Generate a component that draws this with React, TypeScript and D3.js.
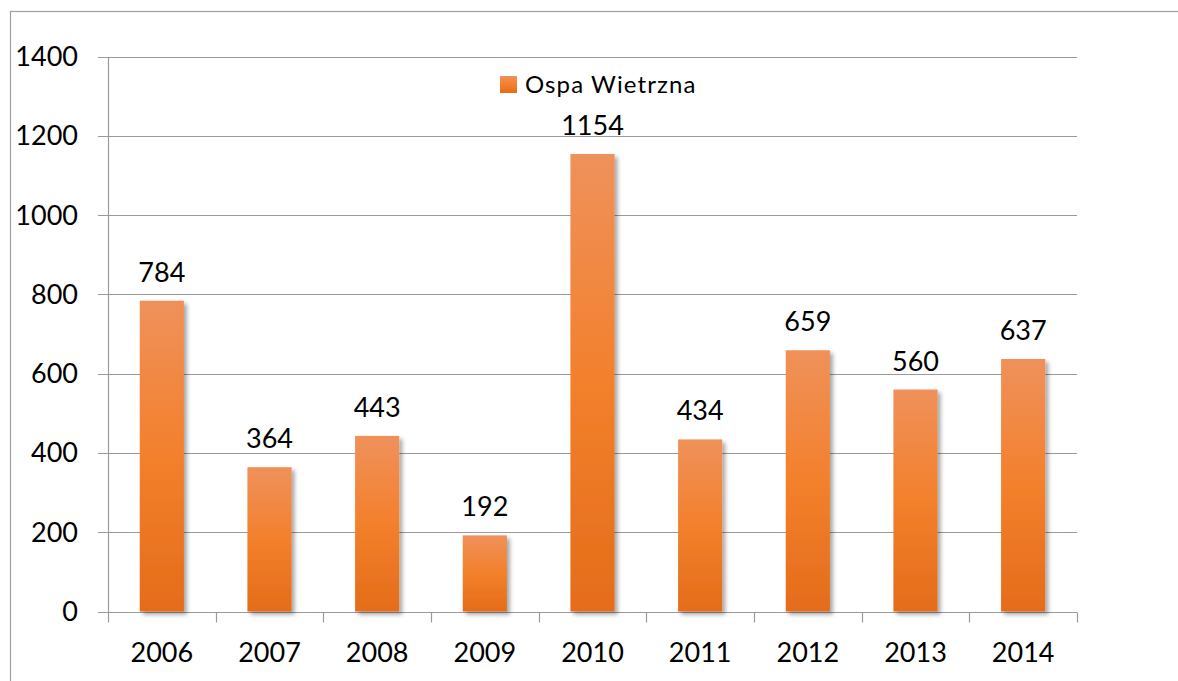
import React, { useEffect, useRef } from 'react';
import * as d3 from 'd3';

const years = ['2006', '2007', '2008', '2009', '2010', '2011', '2012', '2013', '2014'];
const cases = [784, 364, 443, 192, 1154, 434, 659, 560, 637];
const yTicks = [0, 200, 400, 600, 800, 1000, 1200, 1400];
const seriesName = 'Ospa Wietrzna';

const W = 1178;
const H = 681;

export default function App() {
  const svgRef = useRef<SVGSVGElement>(null);

  useEffect(() => {
    const svg = d3.select(svgRef.current);
    svg.selectAll('*').remove();

    const font = 'Lato, "Open Sans", sans-serif';
    const left = 108, right = 1077, top = 56.5, bottom = 611.5;

    const x = d3.scaleBand<string>().domain(years).range([left, right]).paddingInner(0.59).paddingOuter(0.295);
    const y = d3.scaleLinear().domain([0, 1400]).range([bottom, top]);

    const defs = svg.append('defs');
    const grad = defs.append('linearGradient')
      .attr('id', 'barGrad').attr('x1', 0).attr('x2', 0).attr('y1', 0).attr('y2', 1);
    grad.append('stop').attr('offset', '0%').attr('stop-color', '#ef915b');
    grad.append('stop').attr('offset', '50%').attr('stop-color', '#f3802c');
    grad.append('stop').attr('offset', '100%').attr('stop-color', '#e46c1a');

    const shadow = defs.append('filter').attr('id', 'shadow')
      .attr('x', '-20%').attr('y', '-5%').attr('width', '150%').attr('height', '115%');
    shadow.append('feDropShadow')
      .attr('dx', 3).attr('dy', 3).attr('stdDeviation', 2)
      .attr('flood-color', '#000').attr('flood-opacity', 0.35);

    // outer frame
    svg.append('rect')
      .attr('x', 10.5).attr('y', 11.5).attr('width', W).attr('height', H)
      .attr('fill', 'white').attr('stroke', '#a0a0a0').attr('stroke-width', 1.2);

    // gridlines + y ticks
    svg.append('g').selectAll('line').data(yTicks).enter().append('line')
      .attr('x1', left - 10).attr('x2', right)
      .attr('y1', d => Math.round(y(d)) + 0.5).attr('y2', d => Math.round(y(d)) + 0.5)
      .attr('stroke', '#9a9a9a').attr('stroke-width', 1.2);

    // y axis line
    svg.append('line')
      .attr('x1', left + 0.5).attr('x2', left + 0.5)
      .attr('y1', Math.round(y(1400)) + 0.5).attr('y2', Math.round(y(0)) + 0.5)
      .attr('stroke', '#9a9a9a').attr('stroke-width', 1.2);

    // x ticks at category boundaries
    const bounds = d3.range(years.length + 1).map(i => left + i * (right - left) / years.length);
    svg.append('g').selectAll('line').data(bounds).enter().append('line')
      .attr('x1', d => Math.round(d) + 0.5).attr('x2', d => Math.round(d) + 0.5)
      .attr('y1', Math.round(y(0)) + 0.5).attr('y2', Math.round(y(0)) + 10.5)
      .attr('stroke', '#9a9a9a').attr('stroke-width', 1.2);

    // y labels
    svg.append('g').selectAll('text').data(yTicks).enter().append('text')
      .attr('x', 78).attr('y', d => y(d)).attr('dy', '0.35em')
      .attr('text-anchor', 'end').attr('font-family', font).attr('font-size', 27)
      .attr('fill', '#000').text(d => d);

    // x labels
    svg.append('g').selectAll('text').data(years).enter().append('text')
      .attr('x', d => (x(d) as number) + x.bandwidth() / 2).attr('y', 662)
      .attr('text-anchor', 'middle').attr('font-family', font).attr('font-size', 27)
      .attr('fill', '#000').text(d => d);

    // bars
    svg.append('g').selectAll('rect').data(cases).enter().append('rect')
      .attr('x', (d, i) => x(years[i]) as number)
      .attr('width', x.bandwidth())
      .attr('y', d => y(d))
      .attr('height', d => y(0) - y(d))
      .attr('fill', 'url(#barGrad)')
      .attr('filter', 'url(#shadow)');

    // value labels
    svg.append('g').selectAll('text').data(cases).enter().append('text')
      .attr('x', (d, i) => (x(years[i]) as number) + x.bandwidth() / 2)
      .attr('y', d => y(d) - 19)
      .attr('text-anchor', 'middle').attr('font-family', font).attr('font-size', 27)
      .attr('fill', '#000').text(d => d);

    // legend
    const lg = svg.append('g');
    lg.append('rect').attr('x', 500).attr('y', 76).attr('width', 17).attr('height', 17)
      .attr('fill', 'url(#barGrad)');
    lg.append('text').attr('x', 525).attr('y', 93)
      .attr('font-family', font).attr('font-size', 24).attr('letter-spacing', 1.1)
      .attr('fill', '#000')
      .text(seriesName);
  }, []);

  return (
    <div style={{ position: 'fixed', left: 0, top: 0, width: W, height: H, background: 'white' }}>
      <svg ref={svgRef} width={W} height={H} />
    </div>
  );
}
